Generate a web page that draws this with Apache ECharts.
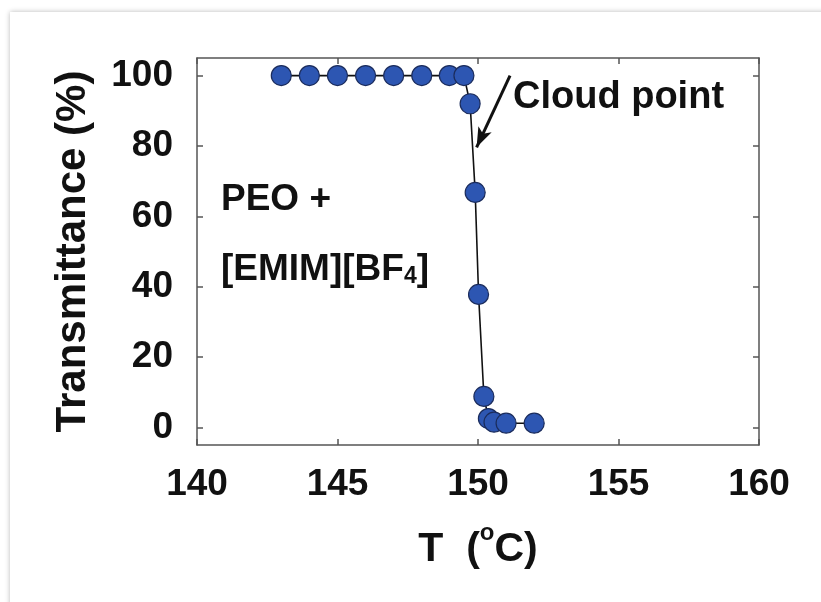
<!DOCTYPE html>
<html>
<head>
<meta charset="utf-8">
<script src="https://cdn.jsdelivr.net/npm/echarts@6/dist/echarts.min.js"></script>
<style>
html,body{margin:0;padding:0;background:#fff;}
#c{width:821px;height:602px;}
</style>
</head>
<body>
<div id="c"></div>
<script>
// Data
const temperature = [143, 144, 145, 146, 147, 148, 148.98, 149.5, 149.72, 149.9, 150.02, 150.21, 150.37, 150.57, 151.0, 152.0];
const transmittance = [100, 100, 100, 100, 100, 100, 100, 100, 92, 66.8, 37.8, 8.8, 2.5, 1.5, 1.2, 1.2];
const xTicks = [140, 145, 150, 155, 160];
const yTicks = [0, 20, 40, 60, 80, 100];
const arrowFrom = [151.14, 100];
const arrowTo = [149.95, 79.6];

const FONT = '"Liberation Sans", Arial, sans-serif';
const points = temperature.map((t, i) => [t, transmittance[i]]);

const chart = echarts.init(document.getElementById('c'), null, {renderer: 'canvas'});
const axisLineStyle = {color: '#555', width: 1.5};
chart.setOption({
  backgroundColor: '#ffffff',
  animation: false,
  grid: {left: 197, right: 62, top: 58, bottom: 157, containLabel: false},
  xAxis: [{
    type: 'value', min: 140, max: 160, interval: 5,
    position: 'bottom',
    axisLine: {show: true, onZero: false, lineStyle: axisLineStyle},
    axisTick: {show: true, inside: true, length: 6, lineStyle: axisLineStyle},
    splitLine: {show: false},
    axisLabel: {
      color: '#111', fontFamily: FONT, fontWeight: 'bold', fontSize: 37, margin: 21,
      formatter: v => xTicks.includes(v) ? String(v) : ''
    },
    name: 'T  ({sup|o}C)',
    nameLocation: 'middle', nameGap: 76,
    nameTextStyle: {
      color: '#111', fontFamily: FONT, fontWeight: 'bold', fontSize: 41,
      rich: {sup: {fontFamily: FONT, fontWeight: 'bold', fontSize: 24, verticalAlign: 'bottom', padding: [0, 0, 34, 0], color: '#111'}}
    }
  }, {
    type: 'value', min: 140, max: 160, interval: 5,
    position: 'top',
    axisLine: {show: true, onZero: false, lineStyle: axisLineStyle},
    axisTick: {show: true, inside: true, length: 6, lineStyle: axisLineStyle},
    axisLabel: {show: false}, splitLine: {show: false}
  }],
  yAxis: [{
    type: 'value', min: -5, max: 105, interval: 20,
    position: 'left',
    axisLine: {show: true, onZero: false, lineStyle: axisLineStyle},
    axisTick: {show: true, inside: true, length: 6, lineStyle: axisLineStyle,
      customValues: yTicks},
    axisLabel: {
      color: '#111', fontFamily: FONT, fontWeight: 'bold', fontSize: 37, margin: 24,
      customValues: yTicks
    },
    splitLine: {show: false},
    name: 'Transmittance (%)',
    nameLocation: 'middle', nameGap: 103,
    nameTextStyle: {color: '#111', fontFamily: FONT, fontWeight: 'bold', fontSize: 42}
  }, {
    type: 'value', min: -5, max: 105, interval: 20,
    position: 'right',
    axisLine: {show: true, onZero: false, lineStyle: axisLineStyle},
    axisTick: {show: true, inside: true, length: 6, lineStyle: axisLineStyle,
      customValues: yTicks},
    axisLabel: {show: false}, splitLine: {show: false}
  }],
  series: [{
    type: 'line',
    data: points,
    xAxisIndex: 0, yAxisIndex: 0,
    symbol: 'circle', symbolSize: 20,
    lineStyle: {color: '#111', width: 1.6},
    itemStyle: {color: '#2d56b2', borderColor: '#1b2c5c', borderWidth: 1.2},
    z: 3,
    markLine: {
      silent: true,
      symbol: ['none', 'arrow'],
      symbolSize: [11, 20],
      label: {show: false},
      lineStyle: {color: '#111', width: 3, type: 'solid'},
      data: [[{coord: arrowFrom}, {coord: arrowTo}]]
    }
  }],
  graphic: [
    {type: 'rect', z: -10, silent: true,
      shape: {x: 10, y: 12, width: 840, height: 640},
      style: {fill: '#fff', shadowColor: 'rgba(0,0,0,0.28)', shadowBlur: 5, shadowOffsetX: 0, shadowOffsetY: 0}},
    {type: 'text', left: 513, top: 79,
      style: {text: 'Cloud point', fill: '#111', font: 'bold 38px ' + FONT}},
    {type: 'text', left: 221, top: 181,
      style: {text: 'PEO +', fill: '#111', font: 'bold 37px ' + FONT}},
    {type: 'text', left: 221, top: 251,
      style: {
        text: '{a|[EMIM][BF}{s|4}{a|]}',
        rich: {
          a: {fill: '#111', fontFamily: FONT, fontWeight: 'bold', fontSize: 37},
          s: {fill: '#111', fontFamily: FONT, fontWeight: 'bold', fontSize: 23, verticalAlign: 'bottom', padding: [8, 0, 0, 0]}
        }
      }}
  ]
});
</script>
</body>
</html>
